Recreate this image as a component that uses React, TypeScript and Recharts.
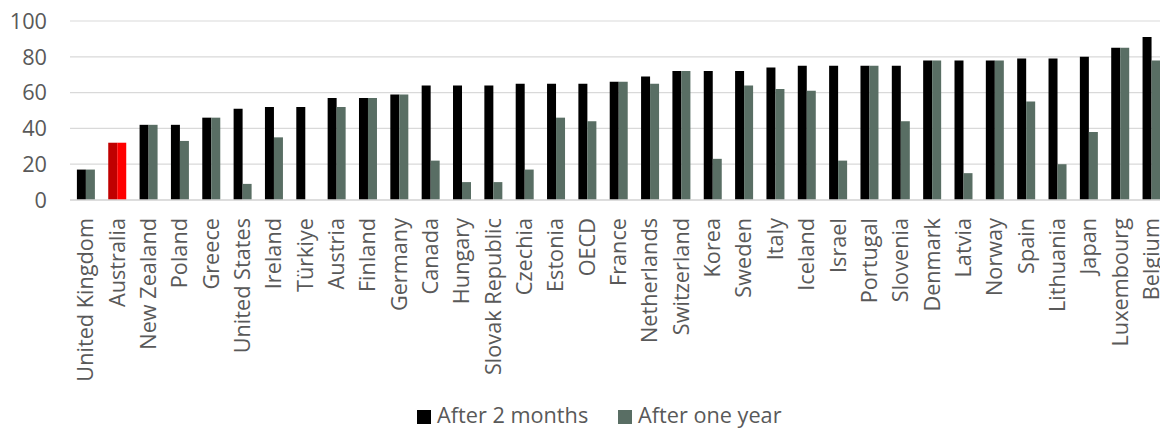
import React from "react";
import { BarChart, Bar, XAxis, YAxis, CartesianGrid, Cell, Legend } from "recharts";

// Share of people still in receipt, by country
const countries = [
  "United Kingdom", "Australia", "New Zealand", "Poland", "Greece", "United States",
  "Ireland", "Türkiye", "Austria", "Finland", "Germany", "Canada", "Hungary",
  "Slovak Republic", "Czechia", "Estonia", "OECD", "France", "Netherlands",
  "Switzerland", "Korea", "Sweden", "Italy", "Iceland", "Israel", "Portugal",
  "Slovenia", "Denmark", "Latvia", "Norway", "Spain", "Lithuania", "Japan",
  "Luxembourg", "Belgium",
];
const afterTwoMonths = [
  17, 32, 42, 42, 46, 51, 52, 52, 57, 57, 59, 64, 64, 64, 65, 65, 65, 66, 69,
  72, 72, 72, 74, 75, 75, 75, 75, 78, 78, 78, 79, 79, 80, 85, 91,
];
const afterOneYear: (number | null)[] = [
  17, 32, 42, 33, 46, 9, 35, null, 52, 57, 59, 22, 10, 10, 17, 46, 44, 66, 65,
  72, 23, 64, 62, 61, 22, 75, 44, 78, 15, 78, 55, 20, 38, 85, 78,
];
const yTicks = [0, 20, 40, 60, 80, 100];
const highlight = "Australia";

const seriesNames = ["After 2 months", "After one year"];
const seriesColors = ["#000000", "#596e64"];
const highlightColors = ["#c00000", "#ff0000"];

const rows = countries.map((name, i) => ({
  name,
  m2: afterTwoMonths[i],
  y1: afterOneYear[i],
}));

const FONT = "'Open Sans', sans-serif";
const TEXT = "#595959";
const FS = 21.7;

const CountryTick = (props: any) => {
  const { x, y, payload } = props;
  return (
    <g transform={`translate(${x},${y + 16})`}>
      <text
        transform="rotate(-90)"
        textAnchor="end"
        dy="0.35em"
        fill={TEXT}
        fontSize={FS}
        fontFamily={FONT}
      >
        {payload.value}
      </text>
    </g>
  );
};

const LegendBox = () => (
  <div style={{ position: "relative", width: 420, height: 30, fontFamily: FONT, fontSize: FS, color: TEXT }}>
    {seriesNames.map((n, i) => (
      <div
        key={n}
        style={{
          position: "absolute",
          left: i === 0 ? 0 : 201,
          top: 0,
          height: 30,
          whiteSpace: "nowrap",
          lineHeight: "30px",
        }}
      >
        <span
          style={{
            position: "absolute",
            left: 0,
            top: 10,
            width: 14,
            height: 14,
            background: seriesColors[i],
          }}
        />
        <span style={{ marginLeft: 20 }}>{n}</span>
      </div>
    ))}
  </div>
);

export default function App() {
  return (
    <div style={{ position: "absolute", left: 0, top: 0, width: 1160, height: 430, overflow: "hidden", background: "#fff" }}>
      <BarChart
        width={1167}
        height={430}
        data={rows}
        margin={{ top: 21, right: 0, bottom: 0, left: 0 }}
        barCategoryGap="22%"
        barGap={0}
      >
        <CartesianGrid vertical={false} stroke="#d9d9d9" strokeWidth={1.2} />
        <XAxis
          dataKey="name"
          interval={0}
          height={230}
          tickLine={false}
          tickSize={0}
          axisLine={{ stroke: "#d9d9d9", strokeWidth: 1.5 }}
          tick={<CountryTick />}
        />
        <YAxis
          width={70}
          domain={[0, 100]}
          ticks={yTicks}
          axisLine={false}
          tickLine={false}
          tickSize={0}
          tickMargin={23}
          tick={{ fill: TEXT, fontSize: FS, fontFamily: FONT }}
        />
        <Legend
          layout="horizontal"
          verticalAlign="middle"
          align="center"
          wrapperStyle={{ top: 400, left: 417, width: 420 }}
          content={<LegendBox />}
        />
        <Bar dataKey="m2" name={seriesNames[0]} fill={seriesColors[0]} isAnimationActive={false}>
          {rows.map((r) => (
            <Cell key={r.name} fill={r.name === highlight ? highlightColors[0] : seriesColors[0]} />
          ))}
        </Bar>
        <Bar dataKey="y1" name={seriesNames[1]} fill={seriesColors[1]} isAnimationActive={false}>
          {rows.map((r) => (
            <Cell key={r.name} fill={r.name === highlight ? highlightColors[1] : seriesColors[1]} />
          ))}
        </Bar>
      </BarChart>
    </div>
  );
}
